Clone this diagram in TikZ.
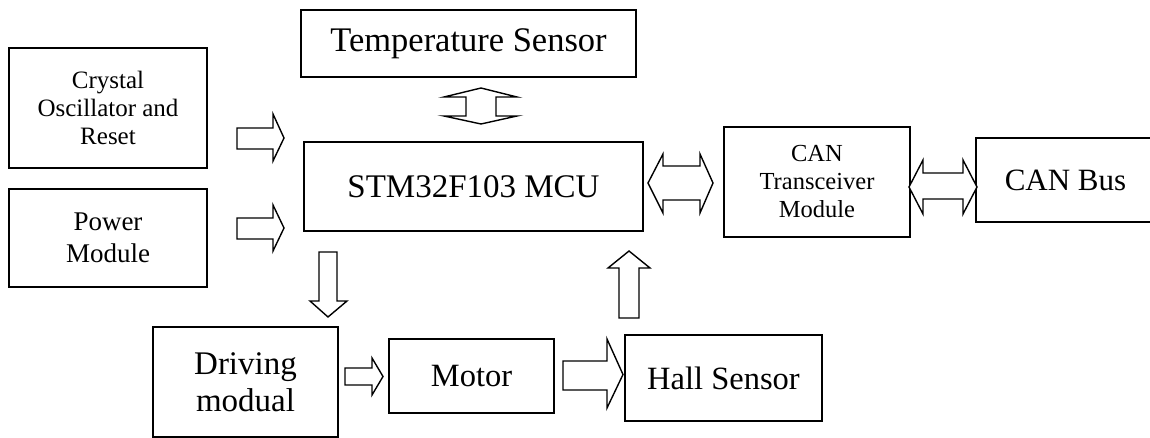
\documentclass[tikz,border=0pt]{standalone}
\usepackage{fontspec}
\setmainfont{Liberation Serif}
\begin{document}
\begin{tikzpicture}[x=1pt,y=-1pt,
  box/.style={draw=black, line width=1.4pt, inner sep=0pt, align=center, fill=white},
  barrow/.style={draw=black, line width=1.4pt, fill=white, line join=miter}]
\useasboundingbox (0,0) rectangle (1150,438);
\fill[white] (0,0) rectangle (1150,438);

% boxes
\node[box, minimum width=198, minimum height=120, font={\fontsize{25}{28}\selectfont}] (cryst) at (108,108)
  {Crystal\\Oscillator and\\Reset};
\node[box, minimum width=198, minimum height=98, font={\fontsize{27}{32}\selectfont}] (power) at (108,238)
  {Power\\Module};
\node[box, minimum width=335, minimum height=67, font={\fontsize{34.5}{38}\selectfont}] (temp) at (468.5,43.5)
  {Temperature Sensor};
\node[box, minimum width=339, minimum height=89, font={\fontsize{33}{37}\selectfont}] (mcu) at (473.5,186.5)
  {STM32F103 MCU};
\node[box, minimum width=186, minimum height=110, font={\fontsize{24.5}{28}\selectfont}] (can) at (817,182)
  {CAN\\Transceiver\\Module};
\node[box, minimum width=179, minimum height=84, font={\fontsize{31}{35}\selectfont}] (bus) at (1065.5,180)
  {CAN Bus};
\node[box, minimum width=185, minimum height=110, font={\fontsize{33}{37}\selectfont}] (drive) at (245.5,382)
  {Driving\\modual};
\node[box, minimum width=165, minimum height=74, font={\fontsize{32.5}{36}\selectfont}] (motor) at (471.5,376)
  {Motor};
\node[box, minimum width=197, minimum height=86, font={\fontsize{32.5}{36}\selectfont}] (hall) at (723.5,378)
  {Hall Sensor};

% block arrows
% crystal -> mcu
\draw[barrow] (237,128) -- (273,128) -- (273,114) -- (284,138) -- (273,161) -- (273,149) -- (237,149) -- cycle;
% power -> mcu
\draw[barrow] (237,218) -- (273,218) -- (273,205) -- (284,228) -- (273,251) -- (273,239) -- (237,239) -- cycle;
% temp <-> mcu
\draw[barrow] (481,88) -- (517,97) -- (496,97) -- (496,116) -- (517,116) -- (481,124) -- (444,116) -- (466,116) -- (466,97) -- (444,97) -- cycle;
% mcu <-> can
\draw[barrow] (648,183) -- (663,154) -- (663,166) -- (700,166) -- (700,154) -- (713,183) -- (700,213) -- (700,200) -- (663,200) -- (663,213) -- cycle;
% can <-> bus
\draw[barrow] (909,187) -- (923,160) -- (923,173) -- (963,173) -- (963,160) -- (977,187) -- (963,214) -- (963,199) -- (923,199) -- (923,214) -- cycle;
% mcu -> drive
\draw[barrow] (319,252) -- (337,252) -- (337,301) -- (347,301) -- (328,317) -- (310,301) -- (319,301) -- cycle;
% hall -> mcu
\draw[barrow] (619,318) -- (619,268) -- (608,268) -- (629,251) -- (650,268) -- (639,268) -- (639,318) -- cycle;
% drive -> motor
\draw[barrow] (345,368) -- (372,368) -- (372,358) -- (383,376.5) -- (372,395) -- (372,385) -- (345,385) -- cycle;
% motor -> hall
\draw[barrow] (563,361) -- (607,361) -- (607,339) -- (623,374.5) -- (607,408) -- (607,390) -- (563,390) -- cycle;
\end{tikzpicture}
\end{document}
